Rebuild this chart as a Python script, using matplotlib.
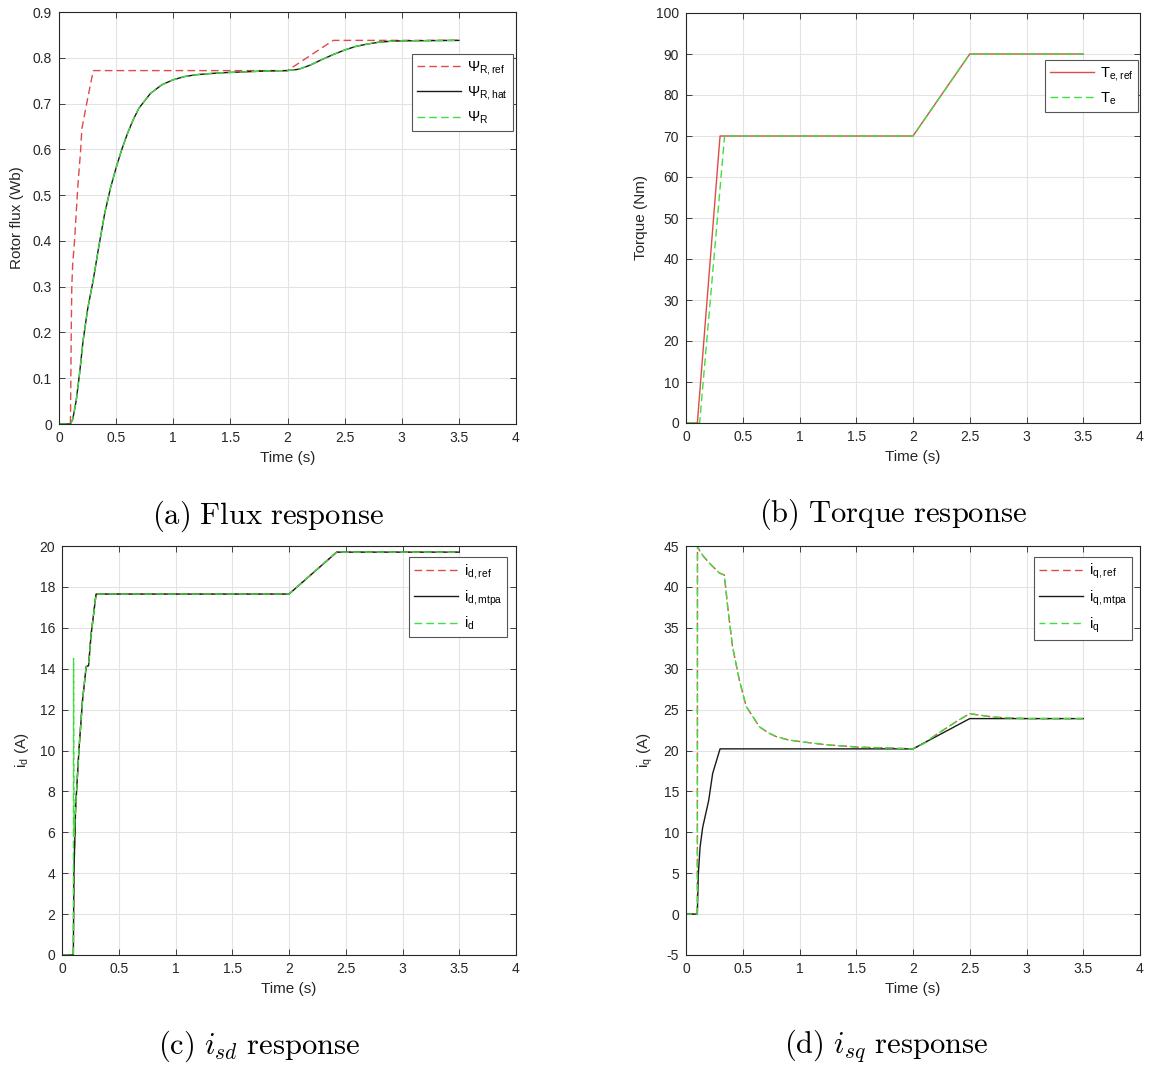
import matplotlib
matplotlib.use("Agg")
import matplotlib.pyplot as plt

# ---- flux (a) ----
t_psi_ref = [0, 0.1, 0.103, 0.107, 0.112, 0.12, 0.136, 0.165, 0.19, 0.2, 0.25, 0.3, 2.0, 2.4, 3.5]
psi_ref = [0, 0, 0.08, 0.2, 0.3, 0.35, 0.40, 0.52, 0.60, 0.645, 0.71, 0.772, 0.772, 0.838, 0.838]
t_psi = [0, 0.1, 0.12, 0.15, 0.18, 0.21, 0.25, 0.3, 0.35, 0.4, 0.45, 0.5, 0.55, 0.6, 0.65,
         0.7, 0.8, 0.9, 1.0, 1.1, 1.2, 1.4, 1.6, 1.8, 2.0, 2.1, 2.2, 2.3, 2.4, 2.5, 2.6,
         2.7, 2.8, 2.9, 3.0, 3.5]
psi_hat = [0, 0, 0.01, 0.05, 0.11, 0.18, 0.25, 0.315, 0.39, 0.46, 0.515, 0.56, 0.60, 0.635,
           0.665, 0.69, 0.722, 0.741, 0.752, 0.759, 0.763, 0.767, 0.769, 0.771, 0.772, 0.775,
           0.784, 0.796, 0.807, 0.817, 0.825, 0.830, 0.834, 0.836, 0.837, 0.838]
psi_meas = [0, 0, 0.01, 0.05, 0.11, 0.18, 0.25, 0.315, 0.39, 0.46, 0.515, 0.56, 0.60, 0.635,
            0.665, 0.69, 0.722, 0.741, 0.752, 0.759, 0.763, 0.767, 0.769, 0.771, 0.772, 0.775,
            0.784, 0.796, 0.807, 0.817, 0.825, 0.830, 0.834, 0.836, 0.837, 0.838]

# ---- torque (b) ----
t_te_ref = [0, 0.1, 0.3, 2.0, 2.5, 3.5]
te_ref = [0, 0, 70, 70, 90, 90]
t_te = [0, 0.12, 0.34, 2.0, 2.5, 3.5]
te = [0, 0, 70, 70, 90, 90]

# ---- d-axis current (c) ----
t_id = [0, 0.1, 0.105, 0.12, 0.15, 0.18, 0.205, 0.213, 0.234, 0.257, 0.3, 2.0, 2.42, 3.5]
id_ref = [0, 0, 4.0, 7.2, 10.1, 12.4, 13.7, 14.1, 14.15, 15.7, 17.65, 17.65, 19.7, 19.7]
id_mtpa = [0, 0, 4.0, 7.2, 10.1, 12.4, 13.7, 14.1, 14.15, 15.7, 17.65, 17.65, 19.7, 19.7]
t_id_meas = [0, 0.1, 0.102, 0.106, 0.12, 0.15, 0.18, 0.205, 0.213, 0.234, 0.257, 0.3, 2.0, 2.42, 3.5]
id_meas = [0, 0, 14.5, 5.8, 7.2, 10.1, 12.4, 13.7, 14.1, 14.15, 15.7, 17.65, 17.65, 19.7, 19.7]

# ---- q-axis current (d) ----
t_iq = [0, 0.1, 0.101, 0.117, 0.15, 0.206, 0.25, 0.294, 0.338, 0.367, 0.41, 0.47, 0.53,
        0.6, 0.647, 0.72, 0.794, 0.9, 1.0, 1.235, 1.53, 1.8, 2.0, 2.1, 2.2, 2.3, 2.4, 2.5,
        2.6, 2.7, 2.8, 3.0, 3.5]
iq_ref = [0, 0, 45, 44.5, 43.8, 42.9, 42.3, 41.7, 41.45, 37.6, 32.7, 28.6, 25.4, 23.9, 22.9,
          22.2, 21.7, 21.3, 21.1, 20.7, 20.4, 20.3, 20.2, 20.9, 21.9, 22.8, 23.7, 24.5, 24.3,
          24.1, 24.0, 23.9, 23.9]
iq_meas = [0, 0, 45, 44.5, 43.8, 42.9, 42.3, 41.7, 41.45, 37.6, 32.7, 28.6, 25.4, 23.9, 22.9,
           22.2, 21.7, 21.3, 21.1, 20.7, 20.4, 20.3, 20.2, 20.9, 21.9, 22.8, 23.7, 24.5, 24.3,
           24.1, 24.0, 23.9, 23.9]
t_iq_mtpa = [0, 0.1, 0.108, 0.124, 0.147, 0.2, 0.235, 0.3, 2.0, 2.5, 3.5]
iq_mtpa = [0, 0, 4.8, 8.2, 10.6, 13.9, 17.2, 20.2, 20.2, 23.9, 23.9]

x_ticks = [0, 0.5, 1, 1.5, 2, 2.5, 3, 3.5, 4]
x_ticklabels = ["0", "0.5", "1", "1.5", "2", "2.5", "3", "3.5", "4"]

RED = "#e04a4a"
GREEN = "#3ee03e"
BLACK = "#1a1a1a"
AX_COL = "#262626"
DASH = (0, (5.5, 3.0))
DASH_SHIFT = (1.2, (5.5, 3.0))   # slight offset so the red dashes beneath show at the edges

W, H = 1150, 1068
plt.rcParams["font.family"] = ["Liberation Sans", "DejaVu Sans"]

fig = plt.figure(figsize=(W / 100, H / 100), dpi=100)


def px_axes(left, top, right, bottom):
    return fig.add_axes([left / W, 1 - bottom / H, (right - left) / W, (bottom - top) / H])


def style(ax, ylim, yticks, ylabel):
    ax.set_xlim(0, 4)
    ax.set_ylim(*ylim)
    ax.set_xticks(x_ticks, x_ticklabels)
    ax.set_yticks(yticks, [f"{v:g}" for v in yticks])
    ax.grid(True, color="#e3e3e3", linewidth=0.8)
    ax.set_axisbelow(True)
    ax.tick_params(direction="in", top=True, right=True, length=4, width=0.6,
                   colors=AX_COL, labelsize=10, pad=5)
    for s in ax.spines.values():
        s.set_color(AX_COL)
        s.set_linewidth(0.8)
    ax.set_xlabel("Time (s)", fontsize=11, color=AX_COL, labelpad=4)
    ax.set_ylabel(ylabel, fontsize=11, color=AX_COL, labelpad=6)


def legend(ax, left, top):
    leg = ax.legend(loc="upper left", bbox_to_anchor=(left / W, 1 - top / H),
                    bbox_transform=fig.transFigure, borderaxespad=0,
                    fontsize=10.5, handlelength=3.0, labelspacing=0.5, handletextpad=0.4,
                    borderpad=0.35, fancybox=False, framealpha=1, edgecolor="#555555")
    leg.get_frame().set_linewidth(0.8)


def caption(x, y, text):
    fig.text(x / W, 1 - y / H, text, ha="center", va="center", fontsize=22,
             math_fontfamily="cm", color="black")


lab = r"$\mathregular{%s}$"

# (a) flux
ax = px_axes(59, 12, 516, 424)
ax.plot(t_psi_ref, psi_ref, color=RED, lw=1.0, ls=DASH, label=lab % "Ψ_{R,ref}")
ax.plot(t_psi, psi_hat, color=BLACK, lw=1.0, label=lab % "Ψ_{R,hat}")
ax.plot(t_psi, psi_meas, color=GREEN, lw=1.0, ls=DASH, label=lab % "Ψ_R")
style(ax, (0, 0.9), [0, 0.1, 0.2, 0.3, 0.4, 0.5, 0.6, 0.7, 0.8, 0.9], "Rotor flux (Wb)")
legend(ax, 412, 54)

# (b) torque
ax = px_axes(686, 13, 1140, 423)
ax.plot(t_te_ref, te_ref, color=RED, lw=1.0, label=lab % "T_{e,ref}")
ax.plot(t_te, te, color=GREEN, lw=1.0, ls=DASH, label=lab % "T_e")
style(ax, (0, 100), list(range(0, 101, 10)), "Torque (Nm)")
legend(ax, 1045, 60)

# (c) i_d
ax = px_axes(62, 546, 516, 955)
ax.plot(t_id, id_ref, color=RED, lw=1.0, ls=DASH, label=lab % "i_{d,ref}")
ax.plot(t_id, id_mtpa, color=BLACK, lw=1.0, label=lab % "i_{d,mtpa}")
ax.plot(t_id_meas, id_meas, color=GREEN, lw=1.0, ls=DASH, label=lab % "i_d")
style(ax, (0, 20), list(range(0, 21, 2)), lab % "i_d" + " (A)")
legend(ax, 409, 557)

# (d) i_q
ax = px_axes(686, 546, 1140, 955)
ax.plot(t_iq, iq_ref, color=RED, lw=1.0, ls=DASH, label=lab % "i_{q,ref}")
ax.plot(t_iq_mtpa, iq_mtpa, color=BLACK, lw=1.0, label=lab % "i_{q,mtpa}")
ax.plot(t_iq, iq_meas, color=GREEN, lw=1.0, ls=DASH_SHIFT, label=lab % "i_q")
style(ax, (-5, 45), list(range(-5, 46, 5)), lab % "i_q" + " (A)")
legend(ax, 1034, 557)

caption(268, 516, r"$\mathrm{(a)\ Flux\ response}$")
caption(893, 514, r"$\mathrm{(b)\ Torque\ response}$")
caption(259, 1046, r"$\mathrm{(c)}\ i_{sd}\ \mathrm{response}$")
caption(886, 1046, r"$\mathrm{(d)}\ i_{sq}\ \mathrm{response}$")

fig.savefig("out.png", dpi=100)
